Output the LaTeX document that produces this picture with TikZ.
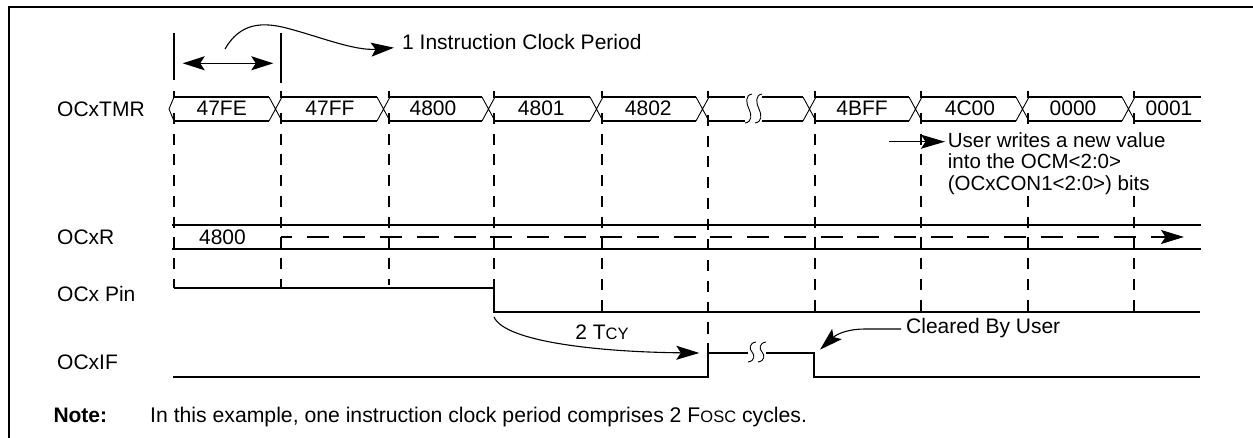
\documentclass[tikz,border=0pt]{standalone}
\usepackage{fontspec}
\setmainfont{Liberation Sans}
\usetikzlibrary{arrows.meta}
\newcommand{\lowcap}[1]{{\fontsize{16.5}{16.5}\selectfont #1}}
\tikzset{
    every node/.style={inner sep=0pt, font=\fontsize{21}{21.5}\selectfont},
    frameline/.style={line width=1.9pt},
    busline/.style={line width=1.7pt},
    crossline/.style={line width=0.9pt},
    gridline/.style={line width=1.8pt, dash pattern=on 11pt off 9.75pt},
    wave/.style={line width=1.8pt},
    pointer/.style={line width=1.1pt, -{Stealth[length=23pt,width=14pt,inset=4.5pt]}},
    squiggle/.style={line width=0.9pt}
}
\begin{document}
\begin{tikzpicture}[x=1pt,y=-1pt]
        \useasboundingbox (0,0) rectangle (1253,438);
        \draw [frameline] (9,438) -- (9,6.7) -- (1253,6.7);
        % grid
        \draw [gridline] (174,91) -- (174,98) (174,113) -- (174,288);
        \draw [gridline] (281,91) -- (281,98) (281,113) -- (281,288);
        \draw [gridline] (389,91) -- (389,98) (389,113) -- (389,285);
        \draw [gridline] (494,91) -- (494,98) (494,113) -- (494,288);
        \draw [gridline] (602,91) -- (602,98) (602,113) -- (602,312);
        \draw [gridline] (708,91) -- (708,98) (708,115) -- (708,353);
        \draw [gridline] (815,91) -- (815,98) (815,113) -- (815,312);
        \draw [gridline] (921,91) -- (921,98) (921,113) -- (921,315);
        \draw [gridline] (1028,91) -- (1028,98) (1028,113) -- (1028,312);
        \draw [gridline] (1134,91) -- (1134,98) (1134,113) -- (1134,312);
        \draw [frameline] (174,33) -- (174,80);
        \draw [frameline] (281,33) -- (281,83);
        % OCxTMR
        \draw [crossline] (174,97) -- (169,109) -- (174,121);
        \draw [busline] (175,97) -- (269,97) (175,121) -- (269,121);
        \draw [busline] (282,97) -- (377,97) (282,121) -- (377,121);
        \draw [busline] (390,97) -- (482,97) (390,121) -- (482,121);
        \draw [busline] (495,97) -- (590,97) (495,121) -- (590,121);
        \draw [busline] (603,97) -- (696,97) (603,121) -- (696,121);
        \draw [busline] (709,97) -- (745,97) (709,121) -- (745,121);
        \draw [busline] (762,97) -- (803,97) (762,121) -- (803,121);
        \draw [busline] (816,97) -- (909,97) (816,121) -- (909,121);
        \draw [busline] (922,97) -- (1016,97) (922,121) -- (1016,121);
        \draw [busline] (1029,97) -- (1122,97) (1029,121) -- (1122,121);
        \draw [busline] (1135,97) -- (1201,97) (1135,121) -- (1201,121);
        \draw [crossline] (269,97) -- (282,121) (269,121) -- (282,97);
        \draw [crossline] (377,97) -- (390,121) (377,121) -- (390,97);
        \draw [crossline] (482,97) -- (495,121) (482,121) -- (495,97);
        \draw [crossline] (590,97) -- (603,121) (590,121) -- (603,97);
        \draw [crossline] (696,97) -- (709,121) (696,121) -- (709,97);
        \draw [crossline] (803,97) -- (816,121) (803,121) -- (816,97);
        \draw [crossline] (909,97) -- (922,121) (909,121) -- (922,97);
        \draw [crossline] (1016,97) -- (1029,121) (1016,121) -- (1029,97);
        \draw [crossline] (1122,97) -- (1135,121) (1122,121) -- (1135,97);
        \draw [squiggle] (752,94) .. controls (745,95) and (746,103) .. (749,109) .. controls (752,115) and (752,122) .. (745,123);
        \draw [squiggle] (762,94) .. controls (755,95) and (756,103) .. (759,109) .. controls (762,115) and (762,122) .. (755,123);
        % OCxR
        \draw [busline] (172,225) -- (1201,225);
        \draw [busline] (172,249) -- (1201,249);
        \coordinate (holdstart) at (281,237);
        \coordinate (holdend) at (1184,237);
        \draw [line width=1.7pt, dash pattern=on 22pt off 14.7pt, dash phase=11pt] (holdstart) -- (1165,237);
        \draw [line width=1.7pt, -{Stealth[length=23pt,width=14pt,inset=4.5pt]}] (1155,237) -- (holdend);
        % OCx Pin, OCxIF
        \draw [wave] (174,288) -- (494,288) -- (494,312) -- (1200,312);
        \draw [wave] (173,377) -- (708,377) -- (708,353) -- (748,353);
        \draw [wave] (766,353) -- (814,353) -- (814,377) -- (1200,377);
        \draw [squiggle] (756,342) .. controls (749,343) and (749,349) .. (752,352) .. controls (755,355) and (755,361) .. (748,362);
        \draw [squiggle] (766,342) .. controls (759,343) and (759,349) .. (762,352) .. controls (765,355) and (765,361) .. (758,362);
        % labels
        \node [anchor=west] (tmrlabel) at (57,109) {OCxTMR};
        \node [anchor=west] (rlabel) at (57,237) {OCxR};
        \node [anchor=west] (pinlabel) at (57,294) {OCx Pin};
        \node [anchor=west] (iflabel) at (57,362) {OCxIF};
        \node (v47FE) at (221.7,108.5) {47FE};
        \node (v47FF) at (330,108.5) {47FF};
        \node (v4800) at (433,108.5) {4800};
        \node (v4801) at (541.3,108.5) {4801};
        \node (v4802) at (648.3,108.5) {4802};
        \node (v4BFF) at (862,108.5) {4BFF};
        \node (v4C00) at (970,108.5) {4C00};
        \node (v0000) at (1073,108.5) {0000};
        \node (v0001) at (1169,108.5) {0001};
        \node (vhold) at (222.5,237) {4800};
        \node [anchor=west] (period) at (402,42) {1 Instruction Clock Period};
        \node [anchor=north west, fill=white, align=left, inner sep=2pt, font=\fontsize{20.5}{21.5}\selectfont] (userwrite) at (945.7,130) {User writes a new value\\into the OCM<2:0>\\(OCxCON1<2:0>) bits};
        \node (tcy) at (602,332) {2 T\lowcap{CY}};
        \node [anchor=base west] (cleared) at (906,333.5) {Cleared By User};
        \node [anchor=base west, font=\fontsize{21}{21.5}\selectfont\bfseries] (note) at (53.3,422.5) {Note:};
        \node [anchor=base west, font=\fontsize{21.2}{21.5}\selectfont] (notetext) at (150,422.5) {In this example, one instruction clock period comprises 2 F\lowcap{OSC} cycles.};
        % pointers
        \coordinate (clockleft) at (182.7,63.3);
        \coordinate (clockright) at (273.3,63.3);
        \draw [line width=1.5pt, {Stealth[length=22pt,width=14pt,inset=4.5pt]}-{Stealth[length=22pt,width=14pt,inset=4.5pt]}] (clockleft) -- (clockright);
        \coordinate (periodfrom) at (225,49);
        \coordinate (periodto) at (394,47.7);
        \draw [pointer] (periodfrom) .. controls (240,23) and (262,21) .. (290,29) .. controls (320,37) and (355,51) .. (periodto);
        \coordinate (writefrom) at (889,141.7);
        \coordinate (writeto) at (945,141.7);
        \draw [line width=1.5pt, -{Stealth[length=24pt,width=14pt,inset=4.5pt]}] (writefrom) -- (writeto);
        \coordinate (delayfrom) at (494,317);
        \coordinate (delayto) at (699.3,353);
        \draw [pointer] (delayfrom) .. controls (505,342) and (600,352) .. (delayto);
        \coordinate (clearedfrom) at (901,329);
        \coordinate (clearedto) at (820,349.7);
        \draw [pointer] (clearedfrom) -- (865,329) .. controls (850,329) and (838,333) .. (clearedto);
    \end{tikzpicture}
\end{document}
